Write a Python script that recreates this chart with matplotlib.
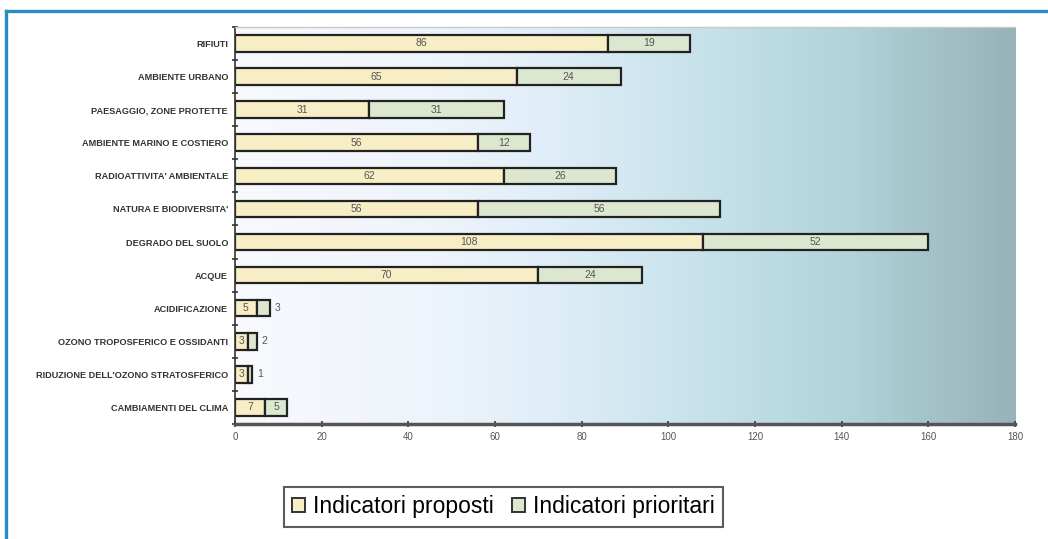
import numpy as np
import matplotlib.pyplot as plt
from matplotlib.colors import LinearSegmentedColormap
from matplotlib.lines import Line2D

plt.rcParams['font.family'] = ['Liberation Sans', 'DejaVu Sans']

# categories listed top to bottom
temi = ["RIFIUTI", "AMBIENTE URBANO", "PAESAGGIO, ZONE PROTETTE",
        "AMBIENTE MARINO E COSTIERO", "RADIOATTIVITA' AMBIENTALE",
        "NATURA E BIODIVERSITA'", "DEGRADO DEL SUOLO", "ACQUE",
        "ACIDIFICAZIONE", "OZONO TROPOSFERICO E OSSIDANTI",
        "RIDUZIONE DELL'OZONO STRATOSFERICO", "CAMBIAMENTI DEL CLIMA"]
proposti = [86, 65, 31, 56, 62, 56, 108, 70, 5, 3, 3, 7]
prioritari = [19, 24, 31, 12, 26, 56, 52, 24, 3, 2, 1, 5]
x_ticks = [0, 20, 40, 60, 80, 100, 120, 140, 160, 180]

col_prop = '#f7eec6'
col_prio = '#dce7cf'

fig = plt.figure(figsize=(10.48, 5.39), dpi=100)
ax = fig.add_axes([0.2242, 0.2134, 0.7443, 0.7366])

# horizontal gradient behind the bars
grad_cmap = LinearSegmentedColormap.from_list(
    'bg', [(0.0, '#f7f9fd'), (0.25, '#eef4fb'), (0.4, '#e0eef9'),
           (0.58, '#c9e3ec'), (0.78, '#b2d4db'), (1.0, '#97b3b7')])
grad = np.linspace(0, 1, 256).reshape(1, -1)
ax.imshow(grad, extent=[0, 180, -0.5, 11.5], aspect='auto', cmap=grad_cmap,
          zorder=0, interpolation='bicubic')

y = np.arange(len(temi))[::-1]
ax.barh(y, proposti, height=0.5, color=col_prop, edgecolor='#222222',
        linewidth=1.6, zorder=2)
ax.barh(y, prioritari, left=proposti, height=0.5, color=col_prio,
        edgecolor='#222222', linewidth=1.6, zorder=2)

for yi, a, b in zip(y, proposti, prioritari):
    ax.text(a / 2, yi, str(a), ha='center', va='center', fontsize=7.5,
            color='#555555', zorder=3)
    if b >= 4:
        ax.text(a + b / 2, yi, str(b), ha='center', va='center', fontsize=7.5,
                color='#555555', zorder=3)
    else:
        ax.text(a + b + 1.2, yi, str(b), ha='left', va='center', fontsize=7.5,
                color='#555555', zorder=3)

ax.set_xlim(0, 180)
ax.set_ylim(-0.5, 11.5)
ax.set_xticks(x_ticks)
ax.set_xticklabels([str(t) for t in x_ticks], fontsize=7, color='#555555')
ax.tick_params(axis='x', direction='inout', length=5, width=1.2,
               color='#333333', pad=3)

ax.set_yticks(y)
ax.set_yticklabels(temi, fontsize=6.6, fontweight='bold', color='#333333')
ax.tick_params(axis='y', length=0, pad=5)
ax.set_yticks(np.arange(-0.5, 12, 1), minor=True)
ax.tick_params(axis='y', which='minor', direction='inout', length=5,
               width=1.2, color='#333333')

ax.spines['right'].set_visible(False)
ax.spines['top'].set_color('#c8c8c8')
ax.spines['top'].set_linewidth(1.0)
ax.spines['left'].set_color('#333333')
ax.spines['left'].set_linewidth(1.2)
ax.spines['bottom'].set_color('#555555')
ax.spines['bottom'].set_linewidth(2.5)

# legend below the plot
handles = [plt.Rectangle((0, 0), 1, 1, facecolor=col_prop, edgecolor='#333333', linewidth=1.4),
           plt.Rectangle((0, 0), 1, 1, facecolor=col_prio, edgecolor='#333333', linewidth=1.4)]
leg = fig.legend(handles, ['Indicatori proposti', 'Indicatori prioritari'],
                 loc='center', bbox_to_anchor=(0.4804, 0.0594), ncol=2,
                 fontsize=16.5, frameon=True, fancybox=False,
                 handlelength=0.55, handleheight=0.55, handletextpad=0.35,
                 columnspacing=0.8, borderpad=0.35, borderaxespad=0)
leg.get_frame().set_edgecolor('#333333')
leg.get_frame().set_linewidth(1.5)

# blue frame along top and left
fig.add_artist(Line2D([0.0062, 1.0], [0.9796, 0.9796], color='#2a8cc4',
                      linewidth=2.4, transform=fig.transFigure))
fig.add_artist(Line2D([0.0062, 0.0062], [0.0, 0.9796], color='#2a8cc4',
                      linewidth=2.4, transform=fig.transFigure))

fig.savefig('out.png', dpi=100)
